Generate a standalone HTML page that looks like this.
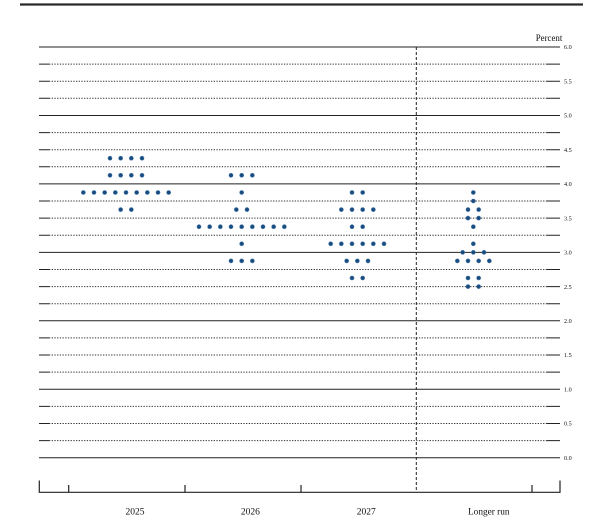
<!DOCTYPE html>
<html><head><meta charset="utf-8"><style>
html,body{margin:0;padding:0;background:#fff;}
svg{display:block;}
text{font-family:"Liberation Serif",serif;fill:#111;}
</style></head><body>
<svg width="600" height="532" viewBox="0 0 600 532" xmlns="http://www.w3.org/2000/svg">
<rect x="0" y="0" width="600" height="532" fill="#fff"/>
<line x1="20" y1="4.5" x2="583" y2="4.5" stroke="#2a2a2a" stroke-width="2.2"/>
<text x="549" y="41" font-size="8.9" text-anchor="middle">Percent</text>
<g stroke="#222" stroke-width="1">
<!-- integer lines -->
<line x1="39" y1="47" x2="560" y2="47"/>
<line x1="39" y1="115.45" x2="560" y2="115.45"/>
<line x1="39" y1="183.9" x2="560" y2="183.9"/>
<line x1="39" y1="252.35" x2="560" y2="252.35"/>
<line x1="39" y1="320.8" x2="560" y2="320.8"/>
<line x1="39" y1="389.25" x2="560" y2="389.25"/>
<line x1="39" y1="457.7" x2="560" y2="457.7"/>
</g>
<g stroke="#333" stroke-width="1" stroke-dasharray="1.3 1.4">
<line x1="49" y1="64.1" x2="547" y2="64.1"/>
<line x1="49" y1="81.2" x2="547" y2="81.2"/>
<line x1="49" y1="98.3" x2="547" y2="98.3"/>
<line x1="49" y1="132.6" x2="547" y2="132.6"/>
<line x1="49" y1="149.7" x2="547" y2="149.7"/>
<line x1="49" y1="166.8" x2="547" y2="166.8"/>
<line x1="49" y1="201.0" x2="547" y2="201.0"/>
<line x1="49" y1="218.1" x2="547" y2="218.1"/>
<line x1="49" y1="235.2" x2="547" y2="235.2"/>
<line x1="49" y1="269.5" x2="547" y2="269.5"/>
<line x1="49" y1="286.6" x2="547" y2="286.6"/>
<line x1="49" y1="303.7" x2="547" y2="303.7"/>
<line x1="49" y1="337.9" x2="547" y2="337.9"/>
<line x1="49" y1="355.0" x2="547" y2="355.0"/>
<line x1="49" y1="372.1" x2="547" y2="372.1"/>
<line x1="49" y1="406.4" x2="547" y2="406.4"/>
<line x1="49" y1="423.5" x2="547" y2="423.5"/>
<line x1="49" y1="440.6" x2="547" y2="440.6"/>
</g>
<g stroke="#222" stroke-width="1">
<path d="M39 64.1H49M547 64.1H560M39 81.2H49M547 81.2H560M39 98.3H49M547 98.3H560M39 132.6H49M547 132.6H560M39 149.7H49M547 149.7H560M39 166.8H49M547 166.8H560M39 201H49M547 201H560M39 218.1H49M547 218.1H560M39 235.2H49M547 235.2H560M39 269.5H49M547 269.5H560M39 286.6H49M547 286.6H560M39 303.7H49M547 303.7H560M39 337.9H49M547 337.9H560M39 355H49M547 355H560M39 372.1H49M547 372.1H560M39 406.4H49M547 406.4H560M39 423.5H49M547 423.5H560M39 440.6H49M547 440.6H560"/>
</g>
<g font-size="6.2">
<text x="564" y="49.2">6.0</text>
<text x="564" y="83.4">5.5</text>
<text x="564" y="117.6">5.0</text>
<text x="564" y="151.9">4.5</text>
<text x="564" y="186.1">4.0</text>
<text x="564" y="220.3">3.5</text>
<text x="564" y="254.5">3.0</text>
<text x="564" y="288.8">2.5</text>
<text x="564" y="323.0">2.0</text>
<text x="564" y="357.2">1.5</text>
<text x="564" y="391.4">1.0</text>
<text x="564" y="425.7">0.5</text>
<text x="564" y="459.9">0.0</text>
</g>
<!-- dashed divider -->
<line x1="416.3" y1="47" x2="416.3" y2="492" stroke="#222" stroke-width="1" stroke-dasharray="3 2"/>
<!-- bottom axis -->
<g stroke="#222" stroke-width="1.2" fill="none">
<path d="M39.3 480.5V492.3H560V480.5"/>
<path d="M68.7 485V492M185 485V492M301 485V492M532 485V492"/>
</g>
<g font-size="9.5" text-anchor="middle">
<text x="135" y="514.5">2025</text>
<text x="250.4" y="514.5">2026</text>
<text x="366.2" y="514.5">2027</text>
<text x="488.8" y="514.5" font-size="9.3">Longer run</text>
</g>
<g fill="#1a4c7e" stroke="#3f73a6" stroke-width="0.6">
<!-- 2025 -->
<circle cx="110" cy="158.2" r="2"/><circle cx="120.67" cy="158.2" r="2"/><circle cx="131.33" cy="158.2" r="2"/><circle cx="142" cy="158.2" r="2"/>
<circle cx="110" cy="175.3" r="2"/><circle cx="120.67" cy="175.3" r="2"/><circle cx="131.33" cy="175.3" r="2"/><circle cx="142" cy="175.3" r="2"/>
<circle cx="83.33" cy="192.5" r="2"/><circle cx="94" cy="192.5" r="2"/><circle cx="104.67" cy="192.5" r="2"/><circle cx="115.33" cy="192.5" r="2"/><circle cx="126" cy="192.5" r="2"/><circle cx="136.67" cy="192.5" r="2"/><circle cx="147.33" cy="192.5" r="2"/><circle cx="158" cy="192.5" r="2"/><circle cx="168.67" cy="192.5" r="2"/>
<circle cx="120.67" cy="209.6" r="2"/><circle cx="131.33" cy="209.6" r="2"/>
<!-- 2026 -->
<circle cx="231" cy="175.3" r="2"/><circle cx="241.67" cy="175.3" r="2"/><circle cx="252.33" cy="175.3" r="2"/>
<circle cx="241.67" cy="192.5" r="2"/>
<circle cx="236.33" cy="209.6" r="2"/><circle cx="247" cy="209.6" r="2"/>
<circle cx="199" cy="226.7" r="2"/><circle cx="209.67" cy="226.7" r="2"/><circle cx="220.33" cy="226.7" r="2"/><circle cx="231" cy="226.7" r="2"/><circle cx="241.67" cy="226.7" r="2"/><circle cx="252.33" cy="226.7" r="2"/><circle cx="263" cy="226.7" r="2"/><circle cx="273.67" cy="226.7" r="2"/><circle cx="284.33" cy="226.7" r="2"/>
<circle cx="241.67" cy="243.8" r="2"/>
<circle cx="231" cy="260.9" r="2"/><circle cx="241.67" cy="260.9" r="2"/><circle cx="252.33" cy="260.9" r="2"/>
<!-- 2027 -->
<circle cx="352" cy="192.5" r="2"/><circle cx="362.67" cy="192.5" r="2"/>
<circle cx="341.33" cy="209.6" r="2"/><circle cx="352" cy="209.6" r="2"/><circle cx="362.67" cy="209.6" r="2"/><circle cx="373.33" cy="209.6" r="2"/>
<circle cx="352" cy="226.7" r="2"/><circle cx="362.67" cy="226.7" r="2"/>
<circle cx="330.67" cy="243.8" r="2"/><circle cx="341.33" cy="243.8" r="2"/><circle cx="352" cy="243.8" r="2"/><circle cx="362.67" cy="243.8" r="2"/><circle cx="373.33" cy="243.8" r="2"/><circle cx="384" cy="243.8" r="2"/>
<circle cx="346.67" cy="260.9" r="2"/><circle cx="357.33" cy="260.9" r="2"/><circle cx="368" cy="260.9" r="2"/>
<circle cx="352" cy="278" r="2"/><circle cx="362.67" cy="278" r="2"/>
<!-- Longer run -->
<circle cx="473.33" cy="192.5" r="2"/>
<circle cx="473.33" cy="201" r="2"/>
<circle cx="468" cy="209.6" r="2"/><circle cx="478.67" cy="209.6" r="2"/>
<circle cx="468" cy="218.1" r="2"/><circle cx="478.67" cy="218.1" r="2"/>
<circle cx="473.33" cy="226.7" r="2"/>
<circle cx="473.33" cy="243.8" r="2"/>
<circle cx="462.67" cy="252.35" r="2"/><circle cx="473.33" cy="252.35" r="2"/><circle cx="484" cy="252.35" r="2"/>
<circle cx="457.33" cy="260.9" r="2"/><circle cx="468" cy="260.9" r="2"/><circle cx="478.67" cy="260.9" r="2"/><circle cx="489.33" cy="260.9" r="2"/>
<circle cx="468" cy="278" r="2"/><circle cx="478.67" cy="278" r="2"/>
<circle cx="468" cy="286.6" r="2"/><circle cx="478.67" cy="286.6" r="2"/>
</g>
</svg>
</body></html>
